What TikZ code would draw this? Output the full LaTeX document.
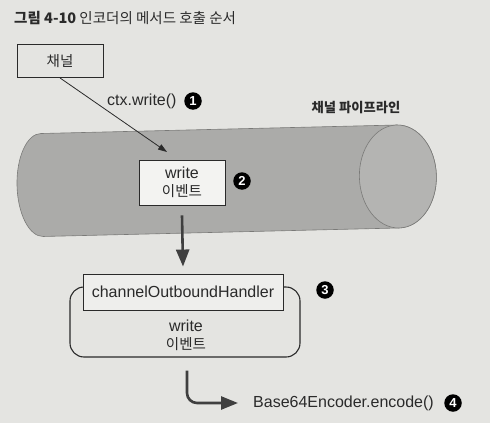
\documentclass[tikz,border=0pt]{standalone}
\usepackage{fontspec}
\setmainfont{Liberation Sans}
\newfontfamily\kr{Noto Sans CJK KR}
\usetikzlibrary{arrows.meta}
\definecolor{bg}{HTML}{E4E4E1}
\definecolor{cyl}{HTML}{ABABA9}
\definecolor{cylend}{HTML}{B4B4B2}
\definecolor{cylline}{HTML}{7A7A78}
\definecolor{boxfill}{HTML}{F3F3F1}
\definecolor{ink}{HTML}{2A2A2A}
\newcommand{\krt}[1]{{\kr\fontsize{14.5}{19}\selectfont #1}}
\tikzset{
  lat/.style={font=\fontsize{16}{19}\selectfont, text=ink, inner sep=0pt},
  boxa/.style={draw=ink, line width=0.9pt, inner sep=0pt, align=center, text=ink,
               font=\fontsize{16}{19}\selectfont},
  numc/.style={circle, fill=black, text=white, inner sep=0pt, minimum size=17.5pt,
               font=\fontsize{13}{13}\selectfont\bfseries},
  thinarrow/.style={draw=ink, line width=0.8pt, -{Triangle[length=9pt, width=6pt]}},
  bigarrow/.style={draw=ink!90, line width=2.6pt, -{Triangle[length=17pt, width=13pt]}},
}
\begin{document}
\begin{tikzpicture}[x=1pt, y=1pt]
\useasboundingbox (0,0) rectangle (490,-423);
\fill[bg] (0,0) rectangle (490,-423);

% title
\node[anchor=west, inner sep=0pt, text=ink] (title) at (14,-18)
  {\kr\fontsize{14.5}{17}\selectfont\textbf{그림 4-10} 인코더의 메서드 호출 순서};

% cylinder
\begin{scope}[shift={(42,-185)}, rotate=1.37]
  \filldraw[fill=cyl, draw=cylline, line width=0.6pt]
    (0,51.5) -- (356,51.5) arc[start angle=90, end angle=-90, x radius=38.5, y radius=51.5]
    -- (0,-51.5) arc[start angle=270, end angle=90, x radius=25, y radius=51.5] -- cycle;
  \filldraw[fill=cylend, draw=cylline, line width=0.6pt]
    (356,0) ellipse[x radius=38.5, y radius=51.5];
\end{scope}

% channel box
\node[boxa, minimum width=86pt, minimum height=33pt] (chan) at (60,-61) {\krt{채널}};
\node[lat, anchor=west] (ctx) at (107,-101) {ctx.write()};
\node[numc] (n1) at (193,-101) {1};
\node[anchor=center, inner sep=0pt, text=ink] (pipe) at (356,-108)
  {\kr\bfseries\fontsize{13.3}{15}\selectfont 채널 파이프라인};

% write event box
\node[boxa, fill=boxfill, minimum width=86pt, minimum height=45pt] (wbox) at (182,-182.5)
  {write\\[-1pt]\krt{이벤트}};
\node[numc] (n2) at (242,-181) {2};
\coordinate (tip) at (167,-152);
\draw[thinarrow] (chan.south) -- (tip);

% handler
\node[draw=ink, line width=1.1pt, rounded corners=14pt, minimum width=230pt,
      minimum height=70pt, inner sep=0pt] (cont) at (185,-322) {};
\node[boxa, fill=boxfill!70!bg, minimum width=200pt, minimum height=36pt] (head) at (183,-292)
  {channelOutboundHandler};
\node[boxa, draw=none, inner sep=0pt] (evt) at (186,-335) {write\\[-1pt]\krt{이벤트}};
\node[numc] (n3) at (325,-290) {3};

\draw[bigarrow] ([yshift=-10pt]wbox.south) -- ([yshift=7pt]head.north);

% encode
\node[lat, anchor=west] (b64) at (253,-403) {Base64Encoder.encode()};
\node[numc] (n4) at (453,-403) {4};
\draw[bigarrow, rounded corners=10pt] ([xshift=2pt, yshift=-13pt]cont.south) |- ([xshift=-15pt]b64.west);
\end{tikzpicture}
\end{document}
